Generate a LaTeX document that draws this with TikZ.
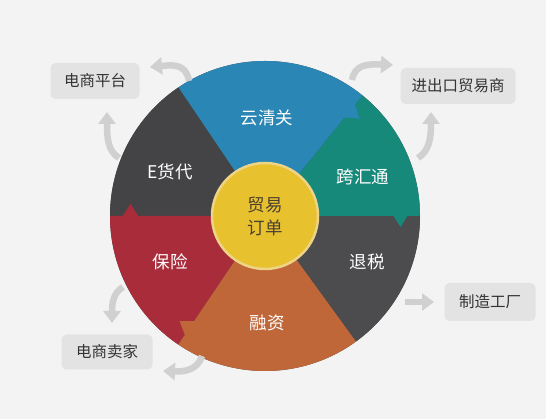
\documentclass[tikz,border=0pt]{standalone}
\usepackage{fontspec}
\newfontfamily\cjk{Noto Sans CJK SC}
\usetikzlibrary{arrows.meta,calc}
\definecolor{cblue}{HTML}{2A86B4}
\definecolor{cteal}{HTML}{17897B}
\definecolor{cdark}{HTML}{444446}
\definecolor{cgray}{HTML}{4C4C4E}
\definecolor{corange}{HTML}{C0673A}
\definecolor{cred}{HTML}{A92C3B}
\definecolor{cyellow}{HTML}{E8C12F}
\definecolor{cyring}{HTML}{EED486}
\definecolor{ctext}{HTML}{4A4030}
\definecolor{boxfill}{HTML}{E3E3E3}
\definecolor{arrowgray}{HTML}{D0D0D0}
\definecolor{txt}{HTML}{333333}
\definecolor{bg}{HTML}{F3F3F3}
\tikzset{
  seglabel/.style={text=white, font=\cjk\fontsize{17.5}{20}\selectfont, inner sep=0pt},
  infobox/.style={fill=boxfill, rounded corners=5pt, text=txt, font=\cjk\fontsize{15.5}{18}\selectfont, inner sep=0pt},
  flowarrow/.style={draw=arrowgray, line width=6.5pt, -{Triangle[width=17pt,length=12pt]}},
}
\begin{document}
\begin{tikzpicture}[x=1pt,y=1pt]
\fill[bg] (0,0) rectangle (546,419);
\useasboundingbox (0,0) rectangle (546,419);
\coordinate (C) at (265,203);
\def\R{155}
% sectors
\fill[cdark] (C) circle[radius=\R];
\fill[cblue]   (C) -- +(51:\R)  arc[start angle=51, end angle=124, radius=\R] -- cycle;
\fill[cdark]   (C) -- +(124:\R) arc[start angle=124,end angle=180, radius=\R] -- cycle;
\fill[cred]    (C) -- +(180:\R) arc[start angle=180,end angle=236, radius=\R] -- cycle;
\fill[corange] (C) -- +(236:\R) arc[start angle=236,end angle=306, radius=\R] -- cycle;
\fill[cgray]   (C) -- +(306:\R) arc[start angle=306,end angle=360, radius=\R] -- cycle;
\fill[cteal]   (C) -- +(0:\R)   arc[start angle=0,  end angle=51,  radius=\R] -- cycle;
% arrow notches
\fill[cblue]   ($(C)+(51:126)+(141:1)$) -- ($(C)+(51:144)+(141:1)$) -- ($(C)+(51:135)+(-39:12)$) -- cycle;
\fill[cteal]   ($(C)+(0:128)+(90:1)$) -- ($(C)+(0:143)+(90:1)$) -- ($(C)+(0:135.5)+(-90:11)$) -- cycle;
\fill[corange] ($(C)+(236:126)+(326:1)$) -- ($(C)+(236:144)+(326:1)$) -- ($(C)+(236:135)+(146:12)$) -- cycle;
\fill[cred]    ($(C)+(180:126)+(270:1)$) -- ($(C)+(180:143)+(270:1)$) -- ($(C)+(180:134.5)+(90:12)$) -- cycle;
% center
\node[circle, minimum size=106pt, fill=cyellow, draw=cyring, line width=2.5pt, inner sep=0pt,
      align=center, text=ctext, font=\cjk\fontsize{17.5}{23}\selectfont] (order) at (C) {贸易\\订单};
% segment labels
\node[seglabel] (yqg) at (267,301) {云清关};
\node[seglabel] (khk) at (363,242) {跨汇通};
\node[seglabel] (ts)  at (367,157) {退税};
\node[seglabel] (rz)  at (267,96)  {融资};
\node[seglabel] (bx)  at (170,157) {保险};
\node[seglabel] (ehd) at (170,247) {E货代};
% boxes
\node[infobox, minimum width=89pt,  minimum height=36pt] (pf)  at (95,338)  {电商平台};
\node[infobox, minimum width=115pt, minimum height=36pt] (imp) at (458,333) {进出口贸易商};
\node[infobox, minimum width=91pt,  minimum height=38pt] (fac) at (490,117) {制造工厂};
\node[infobox, minimum width=91pt,  minimum height=35pt] (sel) at (107,67)  {电商卖家};
% arrows
\coordinate (a1s) at (189,338); \coordinate (a1e) at (150,352);
\draw[flowarrow] (a1s) .. controls (186,356) and (172,354) .. (a1e);
\coordinate (a2s) at (119,261); \coordinate (a2e) at (107,307);
\draw[flowarrow] (a2s) .. controls (108,268) and (107,280) .. (a2e);
\coordinate (a3s) at (352,339); \coordinate (a3e) at (393,354);
\draw[flowarrow] (a3s) .. controls (355,355) and (368,355) .. (a3e);
\coordinate (a4s) at (418,261); \coordinate (a4e) at (431,307);
\draw[flowarrow] (a4s) .. controls (429,268) and (431,280) .. (a4e);
\coordinate (a5s) at (405,117); \coordinate (a5e) at (434,117);
\draw[flowarrow] (a5s) -- (a5e);
\coordinate (a6s) at (123,132); \coordinate (a6e) at (112,96);
\draw[flowarrow] (a6s) .. controls (113,126) and (112,115) .. (a6e);
\coordinate (a7s) at (202,63); \coordinate (a7e) at (163,48);
\draw[flowarrow] (a7s) .. controls (198,50) and (186,47) .. (a7e);
\end{tikzpicture}
\end{document}
